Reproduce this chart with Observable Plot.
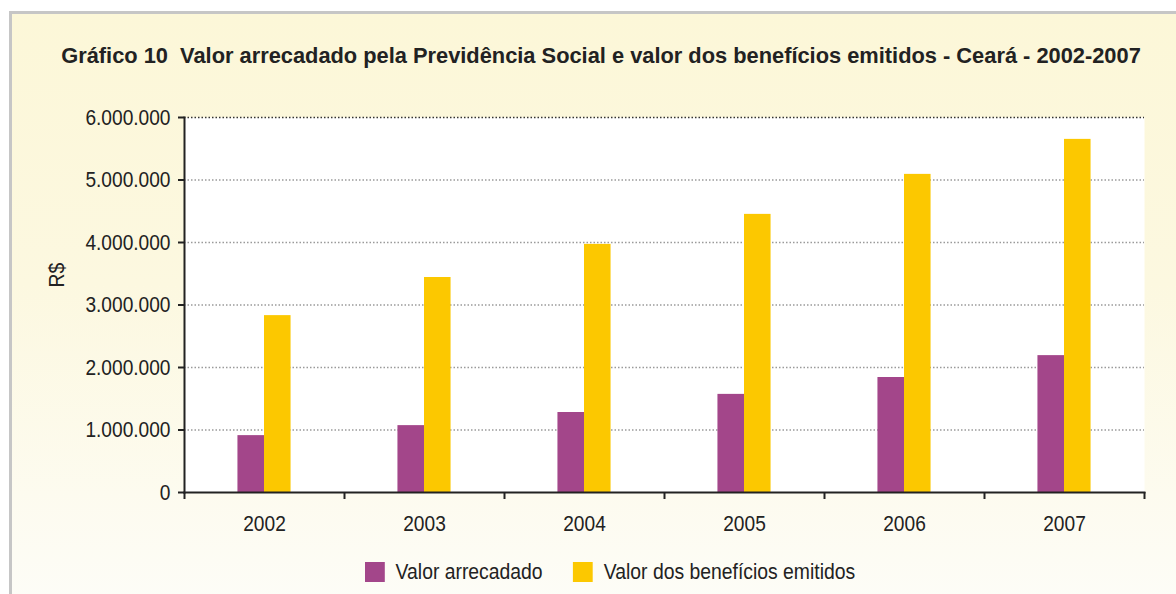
<!DOCTYPE html>
<html>
<head>
<meta charset="utf-8">
<script src="https://cdn.jsdelivr.net/npm/d3@7"></script>
<script src="https://cdn.jsdelivr.net/npm/@observablehq/plot@0.6"></script>
<style>
  html, body { margin: 0; padding: 0; }
  body { width: 1176px; height: 594px; overflow: hidden; background: #ffffff; position: relative;
         font-family: "Liberation Sans", Arial, sans-serif; color: #222; }
  #panel { position: absolute; left: 9px; top: 11px; width: 1180px; height: 600px;
           border-left: 3px solid #c6c6c6; border-top: 3px solid #c6c6c6;
           background: linear-gradient(180deg, #fcf7d8 0%, #fcf8e0 45%, #fdfbef 80%, #fdfdf8 100%); }
  #title { position: absolute; left: 0; width: 1202px; top: 45px; text-align: center;
           font-weight: bold; font-size: 22px; line-height: 22px; white-space: nowrap;
           transform: scaleX(0.992); transform-origin: 601px 0; }
  #ylabel { position: absolute; left: 57px; top: 275px; transform: translate(-50%, -50%) rotate(-90deg) scaleX(0.88);
            font-size: 22px; line-height: 22px; white-space: nowrap; }
  #chart { position: absolute; left: 0; top: 95px; }
  #legend { position: absolute; left: 365px; top: 560px; display: flex; align-items: center; font-size: 21.5px; line-height: 24px;
            white-space: nowrap; transform: scaleX(0.9); transform-origin: 0 50%; }
  .sw { width: 22px; height: 20px; display: inline-block; margin-right: 12px; }
  .item { display: flex; align-items: center; margin-right: 34px; }
</style>
</head>
<body>
<div id="panel"></div>
<div id="title">Gráfico 10&nbsp; Valor arrecadado pela Previdência Social e valor dos benefícios emitidos - Ceará - 2002-2007</div>
<div id="ylabel">R$</div>
<div id="chart"></div>
<div id="legend"></div>
<script>
const years = [2002, 2003, 2004, 2005, 2006, 2007];
const valorArrecadado = [910000, 1070000, 1280000, 1570000, 1840000, 2190000];
const valorBeneficios = [2830000, 3440000, 3970000, 4450000, 5090000, 5650000];
const yTicks = [0, 1000000, 2000000, 3000000, 4000000, 5000000, 6000000];
const seriesNames = ["Valor arrecadado", "Valor dos benefícios emitidos"];
const seriesColors = ["#a3468a", "#fcc800"];

const rows = years.flatMap((yr, i) => [
  {year: yr, series: seriesNames[0], value: valorArrecadado[i]},
  {year: yr, series: seriesNames[1], value: valorBeneficios[i]}
]);
const bounds = years.map(y => y - 0.5).concat([years[years.length - 1] + 0.5]);
const half = 0.166;
const fmt = d => d3.format(",")(d).replace(/,/g, ".");
const font = '"Liberation Sans", Arial, sans-serif';

const chart = Plot.plot({
  width: 1176,
  height: 450,
  marginTop: 22,
  marginBottom: 53,
  marginLeft: 184,
  marginRight: 32,
  style: {background: "transparent", fontFamily: font, fontSize: "22px", color: "#222", overflow: "visible"},
  x: {domain: [bounds[0], bounds[bounds.length - 1]], axis: null},
  y: {domain: [0, 6000000], axis: null},
  color: {domain: seriesNames, range: seriesColors},
  marks: [
    Plot.frame({fill: "white", stroke: "none"}),
    Plot.gridY(yTicks.slice(1, -1), {stroke: "#9a9a9a", strokeOpacity: 1, strokeDasharray: "1.5,2", strokeWidth: 1.5}),
    Plot.ruleY([yTicks[yTicks.length - 1]], {stroke: "#333", strokeDasharray: "1.5,2", strokeWidth: 1.5}),
    Plot.rectY(rows, {
      x1: d => d.series === seriesNames[0] ? d.year - half : d.year,
      x2: d => d.series === seriesNames[0] ? d.year : d.year + half,
      y1: 0,
      y2: "value",
      fill: "series"
    }),
    Plot.axisY({ticks: yTicks, tickFormat: fmt, tickSize: 6, tickPadding: 8, strokeWidth: 2, label: null, fontSize: 22}),
    Plot.axisX({ticks: bounds, tickFormat: () => "", tickSize: 7, strokeWidth: 2, label: null}),
    Plot.axisX({ticks: years, tickFormat: d => String(d), tickSize: 0, tickPadding: 23, label: null, fontSize: 22}),
    Plot.frame({anchor: "left", stroke: "#222", strokeWidth: 2}),
    Plot.frame({anchor: "bottom", stroke: "#222", strokeWidth: 2})
  ]
});
document.getElementById("chart").appendChild(chart);

// condensed look for tick labels (reference uses a narrow face)
chart.querySelectorAll('g[aria-label$="tick label"] text').forEach(t => {
  const tr = t.getAttribute("transform");
  if (tr) {
    t.setAttribute("transform", tr + " scale(0.87,1)");
  } else {
    const x = +t.getAttribute("x") || 0, y = +t.getAttribute("y") || 0;
    t.removeAttribute("x"); t.removeAttribute("y");
    t.setAttribute("transform", `translate(${x},${y}) scale(0.87,1)`);
  }
});

const legend = document.getElementById("legend");
seriesNames.forEach((name, i) => {
  const item = document.createElement("div");
  item.className = "item";
  const sw = document.createElement("span");
  sw.className = "sw";
  sw.style.background = seriesColors[i];
  const lab = document.createElement("span");
  lab.textContent = name;
  item.appendChild(sw);
  item.appendChild(lab);
  legend.appendChild(item);
});
</script>
</body>
</html>
